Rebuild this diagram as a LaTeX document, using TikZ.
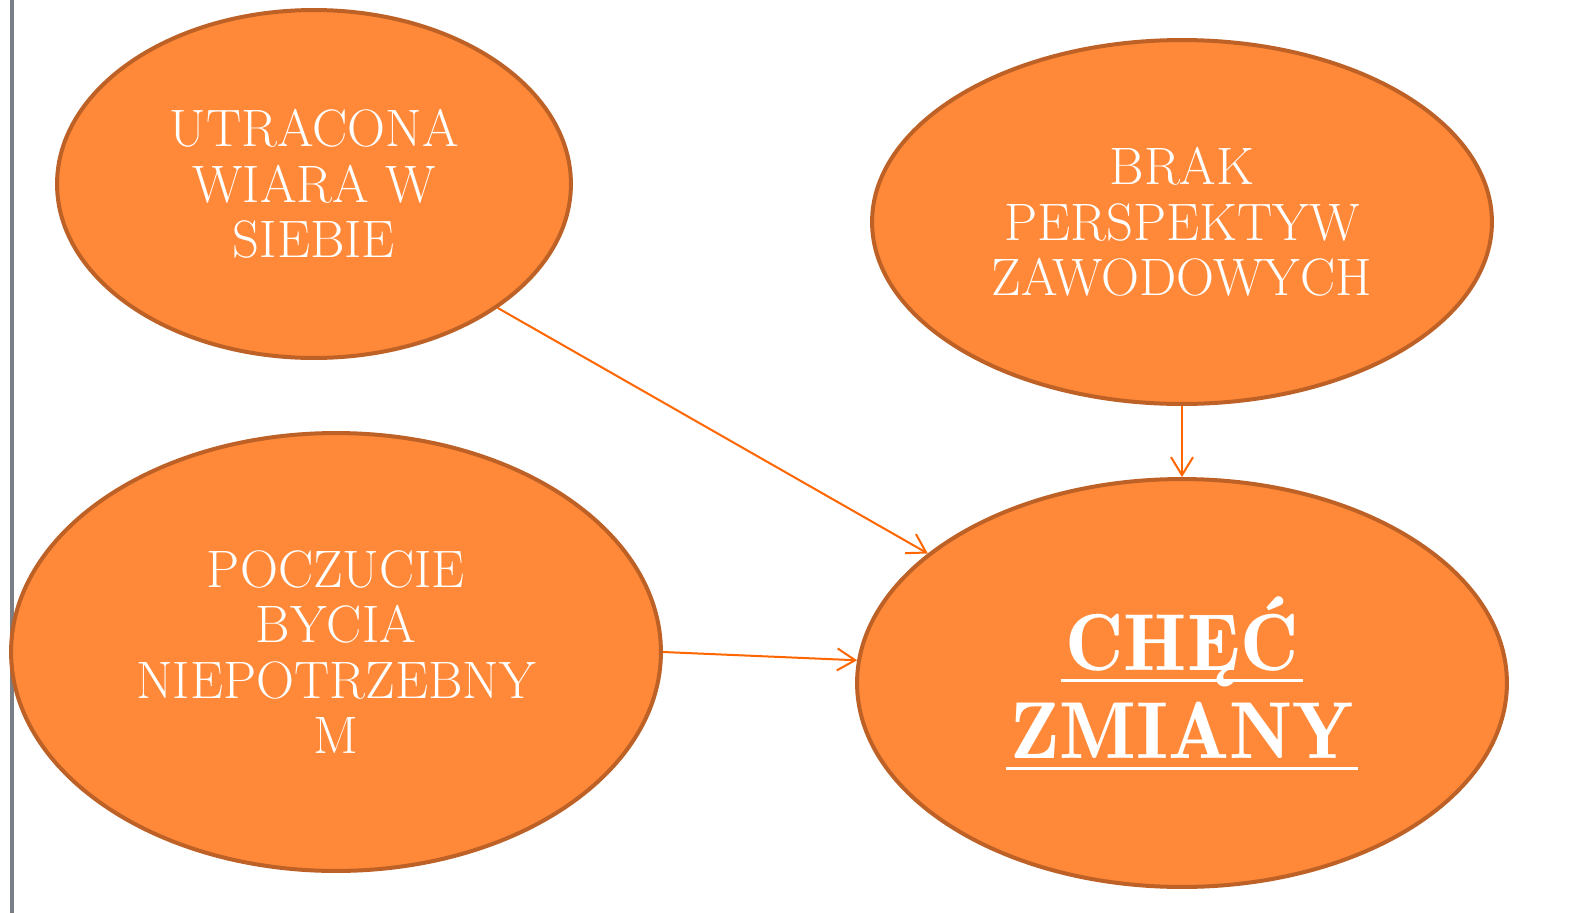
\documentclass[tikz,border=0pt]{standalone}
\usepackage{fontspec}
\newfontfamily\demifont{lmromandemi10-regular.otf}
\usepackage{tikz}
\usetikzlibrary{arrows.meta,shapes.geometric,positioning}
\definecolor{tikzorange}{RGB}{255,137,56}
\definecolor{tikzbrown}{RGB}{190,97,38}
\definecolor{tikzarrow}{RGB}{255,102,0}
\definecolor{tikzgrey}{RGB}{122,126,135}
% underline sitting just under the baseline
\newcommand{\undertext}[1]{\setbox0\hbox{#1}\rlap{\kern-2.3pt\rule[-6.6pt]{\dimexpr\wd0+4.6pt\relax}{1.7pt}}\box0}
\tikzset{
    % Ellipse styles
    cause ellipse/.style={
        ellipse,
        draw=tikzbrown,
        fill=tikzorange,
        line width=0.08cm,
        inner sep=0pt,
        align=center,
        text=white,
        font=\fontsize{30}{31.6}\selectfont
    },
    goal ellipse/.style={
        cause ellipse,
        font=\fontsize{46}{50}\selectfont\demifont
    },
    % Arrow styles
    cause arrow/.style={
        -{Straight Barb[length=3.6mm,width=4.4mm]},
        line width=0.04cm,
        tikzarrow
    }
}

\begin{document}
\begin{tikzpicture}[x=0.02cm,y=-0.02cm]
        \useasboundingbox (0,0) rectangle (1572,913);

        % Side bar
        \draw[tikzgrey, line width=0.1cm] (12,0) -- (12,913);

        % Define nodes
        \node[cause ellipse, minimum width=10.28cm, minimum height=6.96cm] (faith) at (314,184) {UTRACONA\\WIARA W\\SIEBIE};
        \node[cause ellipse, minimum width=12.4cm, minimum height=7.28cm] (career) at (1182,222) {BRAK\\PERSPEKTYW\\ZAWODOWYCH};
        \node[cause ellipse, minimum width=13cm, minimum height=8.76cm] (useless) at (336,652) {POCZUCIE\\BYCIA\\NIEPOTRZEBNY\\M};
        \node[goal ellipse, minimum width=13cm, minimum height=8.16cm] (change) at (1182,683) {\undertext{CHĘĆ}\\\undertext{ZMIANY}};

        % Draw edges
        \draw[cause arrow] (faith.-34) -- (change.153);
        \draw[cause arrow] (career.south) -- (change.north);
        \draw[cause arrow] (useless.east) -- (change.176);
    \end{tikzpicture}
\end{document}
